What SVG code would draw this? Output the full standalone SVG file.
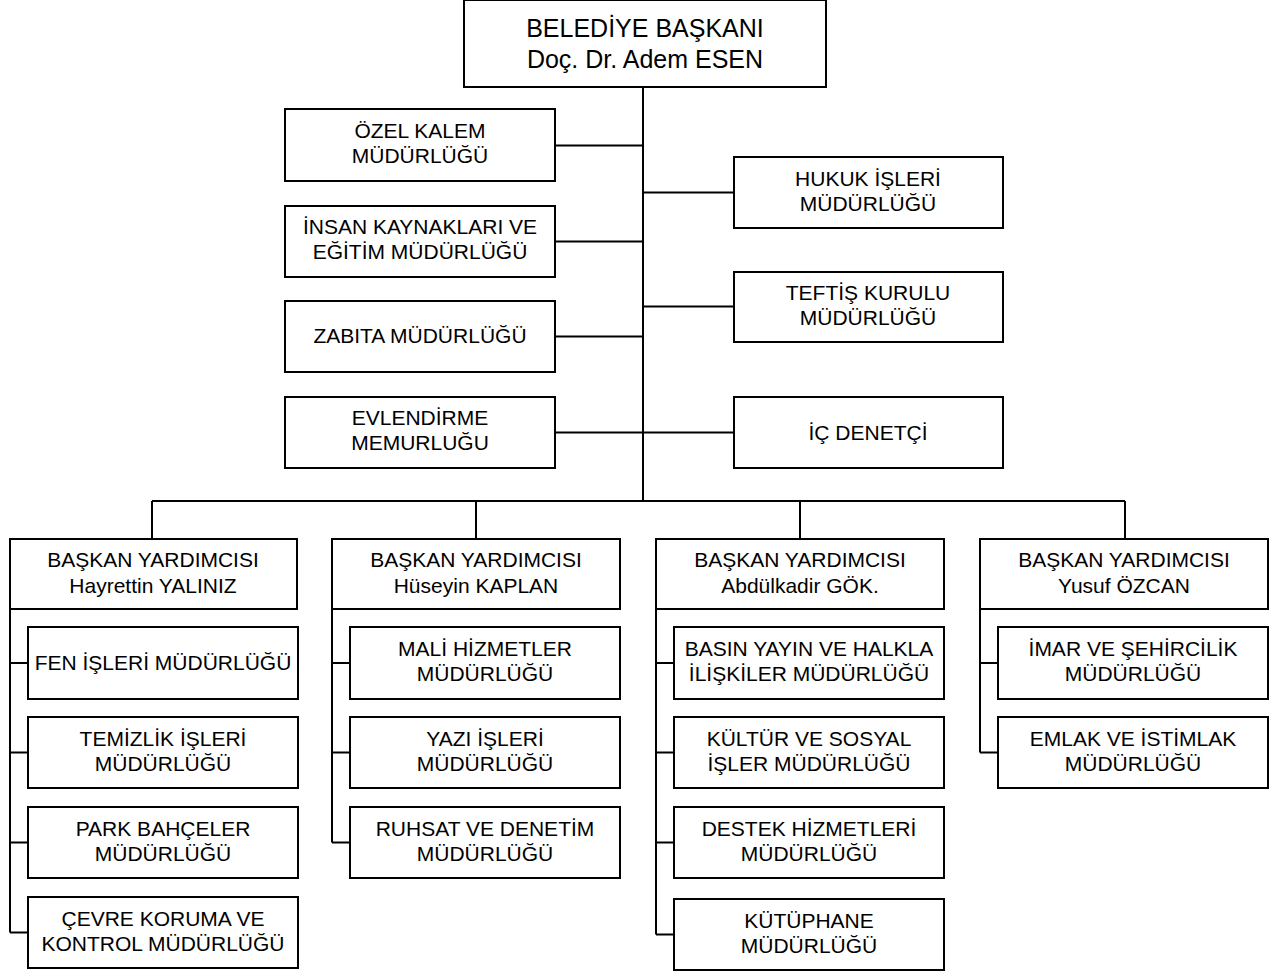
<svg xmlns="http://www.w3.org/2000/svg" width="1288" height="971" viewBox="0 0 1288 971">
<style>
rect.b{fill:#fff;stroke:#000;stroke-width:2}
text{font-family:"Liberation Sans",Arial,sans-serif;font-size:21px;fill:#000;text-anchor:middle}
text.t{font-size:25px}
#connectors path{fill:none;stroke:#000;stroke-width:2}
</style>
<rect width="1288" height="971" fill="#fff"/>
<g id="connectors">
<path d="M643 87V501"/>
<path d="M555 145.5H643M555 241.5H643M555 336.5H643M555 432.5H643"/>
<path d="M643 192.5H734M643 306.5H734M643 432.5H734"/>
<path d="M152 501H1125M152 501V539M476 501V539M800 501V539M1125 501V539"/>
<path d="M10 609V932.5M10 663H28M10 752.5H28M10 842.5H28M10 932.5H28"/>
<path d="M332 609V842.5M332 663H350M332 752.5H350M332 842.5H350"/>
<path d="M656 609V934.5M656 663H674M656 752.5H674M656 842.5H674M656 934.5H674"/>
<path d="M980 609V752.5M980 663H998M980 752.5H998"/>
</g>
<g id="baskan"><rect class="b" x="464" y="0" width="362" height="87"/><text class="t" x="645" y="37">BELEDİYE BAŞKANI</text><text class="t" x="645" y="68">Doç. Dr. Adem ESEN</text></g>
<g id="ozel-kalem"><rect class="b" x="285" y="109" width="270" height="72"/><text x="420" y="138">ÖZEL KALEM</text><text x="420" y="163">MÜDÜRLÜĞÜ</text></g>
<g id="insan-kaynaklari"><rect class="b" x="285" y="206" width="270" height="71"/><text x="420" y="234">İNSAN KAYNAKLARI VE</text><text x="420" y="259">EĞİTİM MÜDÜRLÜĞÜ</text></g>
<g id="zabita"><rect class="b" x="285" y="301" width="270" height="71"/><text x="420" y="343">ZABITA MÜDÜRLÜĞÜ</text></g>
<g id="evlendirme"><rect class="b" x="285" y="397" width="270" height="71"/><text x="420" y="425">EVLENDİRME</text><text x="420" y="450">MEMURLUĞU</text></g>
<g id="hukuk"><rect class="b" x="734" y="157" width="269" height="71"/><text x="868" y="186">HUKUK İŞLERİ</text><text x="868" y="211">MÜDÜRLÜĞÜ</text></g>
<g id="teftis"><rect class="b" x="734" y="272" width="269" height="70"/><text x="868" y="300">TEFTİŞ KURULU</text><text x="868" y="325">MÜDÜRLÜĞÜ</text></g>
<g id="ic-denetci"><rect class="b" x="734" y="397" width="269" height="71"/><text x="868" y="440">İÇ DENETÇİ</text></g>
<g id="yrd1"><rect class="b" x="10" y="539" width="287" height="70"/><text x="153" y="567">BAŞKAN YARDIMCISI</text><text x="153" y="593">Hayrettin YALINIZ</text></g>
<g id="yrd2"><rect class="b" x="332" y="539" width="288" height="70"/><text x="476" y="567">BAŞKAN YARDIMCISI</text><text x="476" y="593">Hüseyin KAPLAN</text></g>
<g id="yrd3"><rect class="b" x="656" y="539" width="288" height="70"/><text x="800" y="567">BAŞKAN YARDIMCISI</text><text x="800" y="593">Abdülkadir GÖK.</text></g>
<g id="yrd4"><rect class="b" x="980" y="539" width="288" height="70"/><text x="1124" y="567">BAŞKAN YARDIMCISI</text><text x="1124" y="593">Yusuf ÖZCAN</text></g>
<g id="fen"><rect class="b" x="28" y="627" width="270" height="72"/><text x="163" y="670">FEN İŞLERİ MÜDÜRLÜĞÜ</text></g>
<g id="temizlik"><rect class="b" x="28" y="717" width="270" height="71"/><text x="163" y="746">TEMİZLİK İŞLERİ</text><text x="163" y="771">MÜDÜRLÜĞÜ</text></g>
<g id="park"><rect class="b" x="28" y="807" width="270" height="71"/><text x="163" y="836">PARK BAHÇELER</text><text x="163" y="861">MÜDÜRLÜĞÜ</text></g>
<g id="cevre"><rect class="b" x="28" y="897" width="270" height="71"/><text x="163" y="926">ÇEVRE KORUMA VE</text><text x="163" y="951">KONTROL MÜDÜRLÜĞÜ</text></g>
<g id="mali"><rect class="b" x="350" y="627" width="270" height="72"/><text x="485" y="656">MALİ HİZMETLER</text><text x="485" y="681">MÜDÜRLÜĞÜ</text></g>
<g id="yazi"><rect class="b" x="350" y="717" width="270" height="71"/><text x="485" y="746">YAZI İŞLERİ</text><text x="485" y="771">MÜDÜRLÜĞÜ</text></g>
<g id="ruhsat"><rect class="b" x="350" y="807" width="270" height="71"/><text x="485" y="836">RUHSAT VE DENETİM</text><text x="485" y="861">MÜDÜRLÜĞÜ</text></g>
<g id="basin"><rect class="b" x="674" y="627" width="270" height="72"/><text x="809" y="656">BASIN YAYIN VE HALKLA</text><text x="809" y="681">İLİŞKİLER MÜDÜRLÜĞÜ</text></g>
<g id="kultur"><rect class="b" x="674" y="717" width="270" height="71"/><text x="809" y="746">KÜLTÜR VE SOSYAL</text><text x="809" y="771">İŞLER MÜDÜRLÜĞÜ</text></g>
<g id="destek"><rect class="b" x="674" y="807" width="270" height="71"/><text x="809" y="836">DESTEK HİZMETLERİ</text><text x="809" y="861">MÜDÜRLÜĞÜ</text></g>
<g id="kutuphane"><rect class="b" x="674" y="899" width="270" height="71"/><text x="809" y="928">KÜTÜPHANE</text><text x="809" y="953">MÜDÜRLÜĞÜ</text></g>
<g id="imar"><rect class="b" x="998" y="627" width="270" height="72"/><text x="1133" y="656">İMAR VE ŞEHİRCİLİK</text><text x="1133" y="681">MÜDÜRLÜĞÜ</text></g>
<g id="emlak"><rect class="b" x="998" y="717" width="270" height="71"/><text x="1133" y="746">EMLAK VE İSTİMLAK</text><text x="1133" y="771">MÜDÜRLÜĞÜ</text></g>
</svg>
